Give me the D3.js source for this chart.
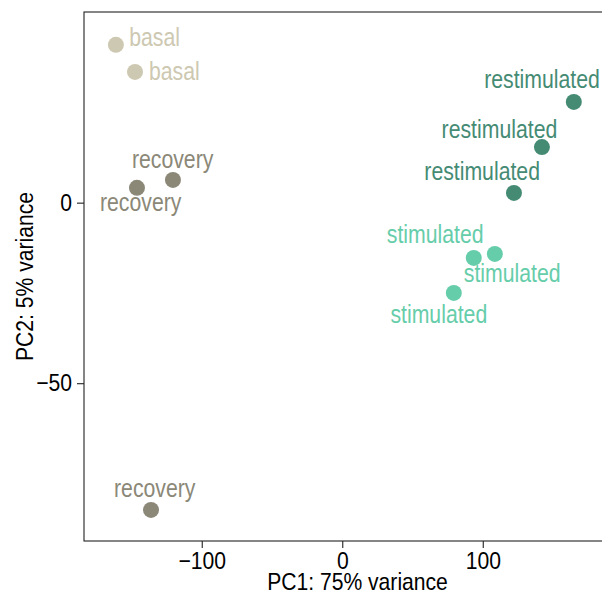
<!DOCTYPE html>
<html>
<head>
<meta charset="utf-8">
<script src="https://cdn.jsdelivr.net/npm/d3@7"></script>
<style>
  html, body { margin: 0; padding: 0; background: #fff; }
  svg { display: block; }
  text { font-family: "Liberation Sans", Arial, Helvetica, sans-serif; }
</style>
</head>
<body>
<svg id="chart" width="602" height="598"></svg>
<script>
// PCA scores per sample
const samples   = ["basal", "basal", "recovery", "recovery", "recovery",
                   "restimulated", "restimulated", "restimulated",
                   "stimulated", "stimulated", "stimulated"];
const pc1Values = [-161.1, -147.5, -146.1, -120.5, -136.1, 164.8, 142.1, 122.2, 93.6, 108.6, 79.4];
const pc2Values = [43.7, 36.2, 4.1, 6.3, -85.1, 27.9, 15.4, 2.7, -15.3, -14.2, -25.0];

const groups      = ["basal", "recovery", "restimulated", "stimulated"];
const groupColors = ["#CDC8B1", "#8B8878", "#458B74", "#66CDAA"];

const xTicks = [-100, 0, 100];
const yTicks = [-50, 0];
const xTitle = "PC1: 75% variance";
const yTitle = "PC2: 5% variance";

// repelled label placement: offset of each label (centre x, baseline y) from its point, in px
const labelOffsets = [[38.7, 1], [39.3, 8], [3.7, 22.7], [-0.3, -11.7], [3.7, -13.3],
                      [-31.8, -14], [-42.5, -9], [-31.8, -12.6],
                      [-38.6, -15], [17.4, 27.7], [-15, 30]];

const svg = d3.select("#chart");
const panel = { left: 84, top: 12, right: 631, bottom: 541 };

// condensed lettering: regular face squeezed horizontally
const axisFont = 24, axisStretch = 0.88;
const labelFont = 25, labelStretch = 0.85;

const x = d3.scaleLinear().domain([-183.8, 205.5]).range([panel.left, panel.right]);
const y = d3.scaleLinear().domain([-93.7, 52.8]).range([panel.bottom, panel.top]);
const color = d3.scaleOrdinal().domain(groups).range(groupColors);

const points = samples.map((s, i) => ({ group: s, pc1: pc1Values[i], pc2: pc2Values[i], off: labelOffsets[i] }));

// panel frame
svg.append("rect")
  .attr("x", panel.left).attr("y", panel.top)
  .attr("width", panel.right - panel.left).attr("height", panel.bottom - panel.top)
  .attr("fill", "none").attr("stroke", "#222").attr("stroke-width", 1.1);

const fmt = d => d3.format("")(d).replace("-", "\u2212");

// x axis
const xAxis = svg.append("g")
  .attr("transform", `translate(0,${panel.bottom})`)
  .call(d3.axisBottom(x).tickValues(xTicks).tickSize(7).tickPadding(4).tickFormat(fmt));
xAxis.selectAll(".tick text")
  .attr("transform", `translate(0,11) scale(${axisStretch},1)`)
  .attr("y", 0).attr("dy", "0.71em");

// y axis
const yAxis = svg.append("g")
  .attr("transform", `translate(${panel.left},0)`)
  .call(d3.axisLeft(y).tickValues(yTicks).tickSize(7).tickPadding(4).tickFormat(fmt));
yAxis.selectAll(".tick text")
  .attr("transform", `translate(-12,0) scale(${axisStretch},1)`)
  .attr("x", 0);

[xAxis, yAxis].forEach(g => {
  g.attr("font-family", null).attr("font-size", null);
  g.select(".domain").remove();
  g.selectAll(".tick line").attr("stroke", "#222").attr("stroke-width", 1.1);
  g.selectAll(".tick text").attr("fill", "#000").attr("font-size", axisFont);
});

// axis titles
svg.append("text")
  .attr("transform", `translate(${(panel.left + panel.right) / 2},590) scale(${axisStretch},1)`)
  .attr("text-anchor", "middle").attr("font-size", axisFont).attr("fill", "#000")
  .text(xTitle);
svg.append("text")
  .attr("transform", `translate(33,${(panel.top + panel.bottom) / 2}) rotate(-90) scale(${axisStretch},1)`)
  .attr("text-anchor", "middle").attr("font-size", axisFont).attr("fill", "#000")
  .text(yTitle);

// sample points
svg.append("g").selectAll("circle")
  .data(points).join("circle")
  .attr("cx", d => x(d.pc1)).attr("cy", d => y(d.pc2))
  .attr("r", 8)
  .attr("fill", d => color(d.group));

// sample labels
svg.append("g").selectAll("text")
  .data(points).join("text")
  .attr("transform", d => `translate(${x(d.pc1) + d.off[0]},${y(d.pc2) + d.off[1]}) scale(${labelStretch},1)`)
  .attr("text-anchor", "middle").attr("font-size", labelFont)
  .attr("fill", d => color(d.group))
  .text(d => d.group);
</script>
</body>
</html>
